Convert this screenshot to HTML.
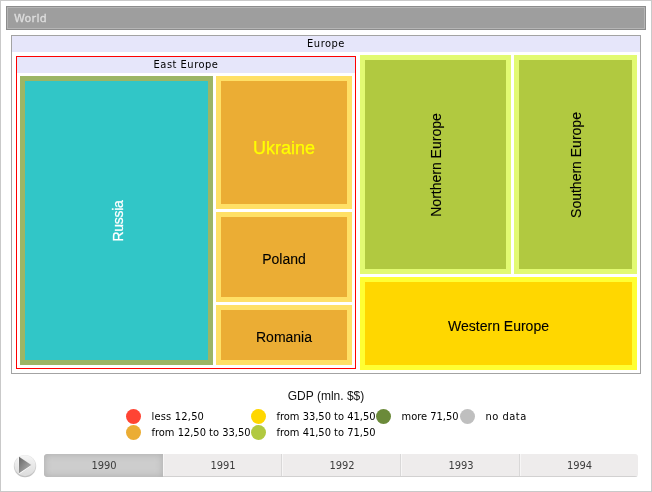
<!DOCTYPE html>
<html>
<head>
<meta charset="utf-8">
<title>World</title>
<style>
html,body{margin:0;padding:0;background:#fff;}
body{width:652px;height:492px;position:relative;overflow:hidden;font-family:"Liberation Sans",sans-serif;}
.abs{position:absolute;box-sizing:border-box;}
#frame{left:0;top:0;width:652px;height:492px;border:1px solid #c9c9c9;}
#world{left:6px;top:6px;width:640px;height:24px;background:#9e9e9e;border:1px solid #8c8c8c;box-shadow:inset 0 0 0 1px #b5b5b5;}
.tah{font-family:"DejaVu Sans Condensed","DejaVu Sans","Liberation Sans",sans-serif;font-stretch:condensed;}
#worldt{left:14px;top:12px;font-family:"DejaVu Sans","Liberation Sans",sans-serif;font-stretch:normal;font-size:11px;line-height:14px;font-weight:normal;-webkit-text-stroke:0.35px #dcdcdc;color:#dcdcdc;white-space:nowrap;letter-spacing:0.3px;}
#europe{left:11px;top:35px;width:630px;height:339px;border:1px solid #a3a3a3;background:#fff;}
.hdr{background:#e6e6fa;color:#000;font-size:11px;letter-spacing:0.5px;line-height:16px;height:16px;text-align:center;white-space:nowrap;}
#europeh{left:12px;top:36px;width:628px;}
#east{left:16px;top:56px;width:340px;height:313px;border:1px solid #ff0000;}
#easth{left:17px;top:57px;width:338px;}
.cell{position:absolute;box-sizing:border-box;border-style:solid;border-width:5px;}
.lbl{position:absolute;white-space:nowrap;font-size:14px;line-height:16px;color:#000;-webkit-text-stroke:0.1px;transform:translate(-50%,-50%);}
.rot{transform:translate(-50%,-50%) rotate(-90deg);}
.dot{position:absolute;width:15px;height:15px;border-radius:50%;}
.lt{position:absolute;font-size:11px;line-height:14px;color:#000;margin-top:1px;margin-left:-0.5px;white-space:nowrap;}
.seg.un{box-shadow:inset 0 -1px 0 #d2d1d1, inset 1px 0 0 #f7f6f6, inset -1px 0 0 #d9d8d8;}
.seg{position:absolute;top:0;height:23px;box-sizing:border-box;text-indent:1px;font-size:11px;line-height:24px;text-align:center;color:#3c3c3c;}
</style>
</head>
<body>
<div id="frame" class="abs"></div>
<div id="world" class="abs"></div>
<div id="worldt" class="abs tah">World</div>

<div id="europe" class="abs"></div>
<div id="europeh" class="abs hdr tah">Europe</div>
<div id="east" class="abs"></div>
<div id="easth" class="abs hdr tah">East Europe</div>

<!-- treemap cells -->
<div class="cell" style="left:20px;top:76px;width:193px;height:289px;background:#31c6c7;border-color:#9cb565;"></div>
<div class="cell" style="left:216px;top:76px;width:136px;height:133px;background:#ebad34;border-color:#ffe066;"></div>
<div class="cell" style="left:216px;top:212px;width:136px;height:90px;background:#ebad34;border-color:#ffe066;"></div>
<div class="cell" style="left:216px;top:305px;width:136px;height:60px;background:#ebad34;border-color:#ffe066;"></div>
<div class="cell" style="left:360px;top:55px;width:151px;height:219px;background:#b1c940;border-color:#e2fa72;"></div>
<div class="cell" style="left:514px;top:55px;width:123px;height:219px;background:#b1c940;border-color:#e2fa72;"></div>
<div class="cell" style="left:360px;top:277px;width:277px;height:93px;background:#ffd700;border-color:#ffff33;"></div>

<!-- labels -->
<div class="lbl rot" style="left:118px;top:220.5px;color:#fff;letter-spacing:-0.3px;-webkit-text-stroke:0.25px;">Russia</div>
<div class="lbl" style="left:284px;top:148px;font-size:18px;line-height:20px;color:#ffff00;-webkit-text-stroke:0.25px;">Ukraine</div>
<div class="lbl" style="left:284px;top:259px;">Poland</div>
<div class="lbl" style="left:284px;top:337px;">Romania</div>
<div class="lbl rot" style="left:436px;top:164.5px;">Northern Europe</div>
<div class="lbl rot" style="left:576px;top:164.5px;">Southern Europe</div>
<div class="lbl" style="left:498.5px;top:326px;">Western Europe</div>

<!-- legend -->
<div class="abs" style="left:0;top:389px;width:652px;text-align:center;font-size:12px;line-height:14px;color:#111;">GDP (mln. $$)</div>
<div class="dot" style="left:126px;top:409px;background:#ff4433;"></div>
<div class="lt tah" style="left:152px;top:409px;letter-spacing:0.2px;">less 12,50</div>
<div class="dot" style="left:126px;top:425px;background:#ebad34;"></div>
<div class="lt tah" style="left:152px;top:425px;">from 12,50 to 33,50</div>
<div class="dot" style="left:251px;top:409px;background:#ffd700;"></div>
<div class="lt tah" style="left:277px;top:409px;">from 33,50 to 41,50</div>
<div class="dot" style="left:251px;top:425px;background:#b1c940;"></div>
<div class="lt tah" style="left:277px;top:425px;">from 41,50 to 71,50</div>
<div class="dot" style="left:376px;top:409px;background:#6b8a3a;"></div>
<div class="lt tah" style="left:402px;top:409px;">more 71,50</div>
<div class="dot" style="left:460px;top:409px;background:#bfbfbf;"></div>
<div class="lt tah" style="left:486px;top:409px;letter-spacing:0.5px;">no data</div>

<!-- player -->
<svg class="abs" style="left:12px;top:453px;" width="28" height="28" viewBox="0 0 28 28">
  <defs>
    <linearGradient id="tg" x1="0" y1="0" x2="1" y2="1">
      <stop offset="0" stop-color="#666666"/><stop offset="0.75" stop-color="#a6a6a6"/>
    </linearGradient>
    <linearGradient id="cg" x1="0" y1="0" x2="0" y2="1">
      <stop offset="0" stop-color="#f5f5f5"/><stop offset="1" stop-color="#dcdcdc"/>
    </linearGradient>
    <linearGradient id="rg" x1="0" y1="0" x2="0" y2="1">
      <stop offset="0" stop-color="#e6e6e6"/><stop offset="1" stop-color="#bdbdbd"/>
    </linearGradient>
  </defs>
  <circle cx="13" cy="13.1" r="11.2" fill="url(#rg)"/>
  <circle cx="13" cy="12.7" r="10.5" fill="url(#cg)"/>
  <path d="M6.4 3.6 L19.4 12.6 L7.2 21.2 Z" fill="#ffffff"/>
  <path d="M7 3.8 L19.4 12 L7 20.2 Z" fill="url(#tg)"/>
</svg>
<div class="abs tah" style="left:44px;top:454px;width:594px;height:23px;background:#eeecec;border-radius:3px;overflow:hidden;">
  <div class="seg" style="left:0;width:119px;background:#cdcdcd;box-shadow:inset 0 0 6px 1px #b2b2b2;border-radius:3px 0 0 3px;text-indent:1px;">1990</div>
  <div class="seg un" style="left:119px;width:119px;">1991</div>
  <div class="seg un" style="left:238px;width:119px;">1992</div>
  <div class="seg un" style="left:357px;width:119px;">1993</div>
  <div class="seg un" style="left:476px;width:118px;box-shadow:inset 0 -1px 0 #d2d1d1, inset 1px 0 0 #f7f6f6;">1994</div>
</div>
</body>
</html>
